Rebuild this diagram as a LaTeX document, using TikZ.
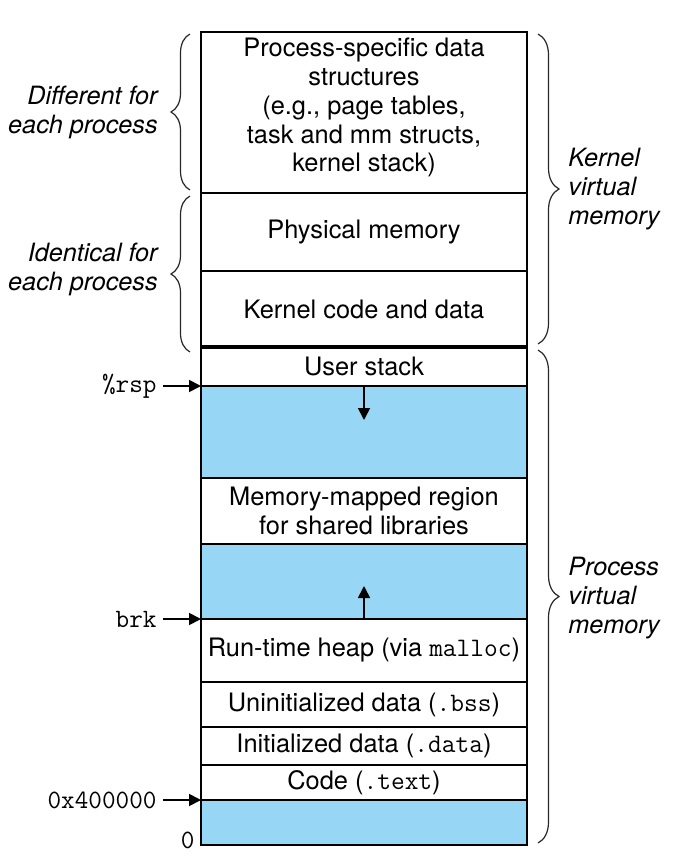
\documentclass[tikz,border=0pt]{standalone}
\usepackage{fontspec}
\setmainfont{TeX Gyre Heros}
\setmonofont[Scale=1.05]{Latin Modern Mono}
\usetikzlibrary{arrows.meta, decorations.pathreplacing}
\definecolor{gapblue}{RGB}{152,214,245}

\begin{document}
\begin{tikzpicture}[x=0.5pt, y=-0.5pt, font=\fontsize{12.7}{14.4}\selectfont,
  memcell/.style={draw, line width=1.1pt, minimum width=163pt, outer sep=0pt, inner sep=0pt, align=center},
  gapcell/.style={memcell, fill=gapblue},
  ptrlabel/.style={anchor=east, font=\fontsize{12.6}{15}\selectfont\ttfamily, inner sep=3pt},
  sidelabel/.style={font=\fontsize{12.6}{14.5}\selectfont\itshape, inner sep=0pt},
  ptr/.style={-{Triangle[length=6pt, width=6pt]}, line width=0.9pt},
  curly/.style={decorate, decoration={brace, amplitude=#1}, line width=0.6pt, black!85},
  curly/.default=9.5pt]
\useasboundingbox (0,0) rectangle (695,867);
% kernel part
\node[memcell, minimum height=80.5pt] (procdata) at (364,112.5) {Process-specific data\\structures\\(e.g., page tables,\\task and mm structs,\\kernel stack)\\[-7pt]\mbox{}};
\node[memcell, minimum height=39pt] (physmem) at (364,232) {Physical memory};
\node[memcell, minimum height=38pt] (kcode) at (364,309) {Kernel code and data};
% process part
\node[memcell, minimum height=19.5pt] (ustack) at (364,366.5) {User stack};
\node[gapcell, minimum height=46pt] (gapA) at (364,432) {};
\node[memcell, minimum height=33pt] (mmap) at (364,511) {Memory-mapped region\\for shared libraries};
\node[gapcell, minimum height=37.5pt] (gapB) at (364,581.5) {};
\node[memcell, minimum height=31.5pt] (heap) at (364,650.5) {Run-time heap (via \texttt{malloc})};
\node[memcell, minimum height=22.5pt] (bss) at (364,704.5) {Uninitialized data (\texttt{.bss})};
\node[memcell, minimum height=19pt] (data) at (364,746) {Initialized data (\texttt{.data})};
\node[memcell, minimum height=17.5pt] (text) at (364,782.5) {Code (\texttt{.text})};
\node[gapcell, minimum height=22.5pt] (gapC) at (364,822.5) {};
\draw[line width=2.2pt] (kcode.south west) -- (kcode.south east);
% growth arrows
\coordinate (stackend) at (364,420);
\coordinate (heapend) at (364,586);
\draw[ptr] (gapA.north) -- (stackend);
\draw[ptr] (gapB.south) -- (heapend);
% pointers on the left
\node[ptrlabel] (rsp) at (163,386) {\%rsp};
\node[ptrlabel] (brk) at (163,619) {brk};
\node[ptrlabel] (textstart) at (163,800) {0x400000};
\node[ptrlabel] (zero) at (201,840) {0};
\draw[ptr] (rsp) -- (gapA.north west);
\draw[ptr] (brk) -- (gapB.south west);
\draw[ptr] (textstart) -- (gapC.north west);
% braces
\draw[curly] (190,190) -- (190,34);
\draw[curly] (190,352) -- (190,196);
\draw[curly=10.5pt] (538,34) -- (538,344);
\draw[curly=10.5pt] (538,350) -- (538,843);
\node[sidelabel, align=right, anchor=east] (diff) at (158,112.5) {Different for\\each process};
\node[sidelabel, align=right, anchor=east] (ident) at (158,269) {Identical for\\each process};
\node[sidelabel, align=left, anchor=west] (kvm) at (568,189) {Kernel\\virtual\\memory};
\node[sidelabel, align=left, anchor=west] (pvm) at (568,598) {Process\\virtual\\memory};
\end{tikzpicture}
\end{document}
